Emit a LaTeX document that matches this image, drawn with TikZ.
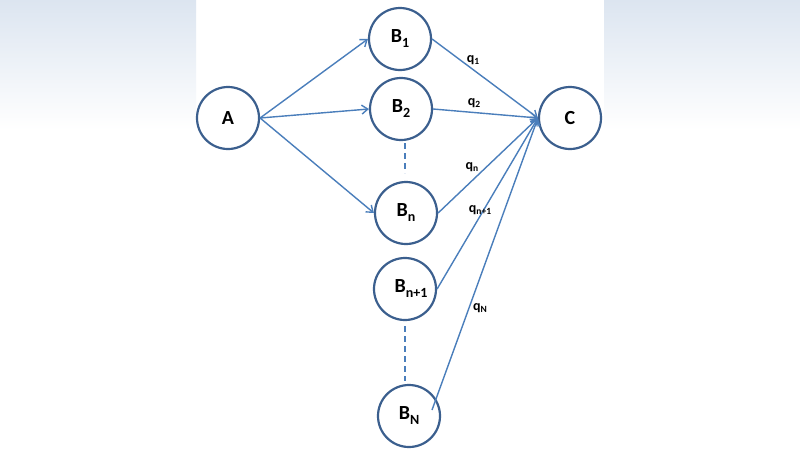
\documentclass[tikz,border=0pt]{standalone}
\usepackage{fontspec}
\setmainfont{Carlito}
\usetikzlibrary{arrows.meta,calc}
\definecolor{ring}{HTML}{3B5F8E}
\definecolor{edge}{HTML}{4A7EBB}
\definecolor{blur}{HTML}{DCE5F0}
\newcommand{\bsub}[1]{\raisebox{-5pt}{\fontsize{14}{14}\selectfont #1}}
\newcommand{\qsub}[1]{\raisebox{-2.5pt}{\fontsize{9.5}{10}\selectfont #1}}
\begin{document}
\begin{tikzpicture}[x=1pt,y=-1pt,
  st/.style={circle,draw=ring,line width=2.2pt,minimum size=62pt,inner sep=0pt,
             font=\bfseries\fontsize{20}{20}\selectfont,text=black},
  arr/.style={draw=edge,line width=1.4pt,-{Straight Barb[length=6pt,width=9pt]}},
  dsh/.style={draw=edge,line width=2.4pt,dash pattern=on 6pt off 4pt},
  lab/.style={font=\bfseries\fontsize{14}{14}\selectfont,text=black,inner sep=0pt}]
\useasboundingbox (0,0) rectangle (800,450);
% blurred side background
\fill[white] (0,0) rectangle (800,450);
\shade[top color=blur, bottom color=white] (0,0) rectangle (196,130);
\shade[top color=blur, bottom color=white] (604,0) rectangle (800,130);
% nodes
\node[st] (A)   at (228,118) {A};
\node[st] (B1)  at (400,39)  {B\bsub{1}};
\node[st] (B2)  at (401,109) {B\bsub{2}};
\node[st] (Bn)  at (406,213) {B\bsub{n}};
\node[st] (Bn1) at (405,289) {\hspace*{12pt}B\bsub{n+1}};
\node[st] (BN)  at (409,416) {B\bsub{N}};
\node[st] (C)   at (570,118) {C};
\coordinate (BNin) at (432,410);
\coordinate (d1a) at (405,143);
\coordinate (d1b) at (405,173);
\coordinate (d2a) at (405,326);
\coordinate (d2b) at (405,381);
% edges from A
\draw[arr] (A.east) -- (B1.west);
\draw[arr] (A.east) -- (B2.west);
\draw[arr] (A.east) -- (Bn.west);
% edges to C
\draw[arr] (B1.east) -- (C.west);
\draw[arr] (B2.east) -- (C.west);
\draw[arr] (Bn.east) -- (C.west);
\draw[arr] (Bn1.east) -- (C.west);
\draw[arr] (BNin) -- (C.west);
% dashed continuation
\draw[dsh] (d1a) -- (d1b);
\draw[dsh] (d2a) -- (d2b);
% labels
\node[lab] (q1)  at (473,60)  {q\qsub{1}};
\node[lab] (q2)  at (474,103) {q\qsub{2}};
\node[lab] (qn)  at (472,167) {q\qsub{n}};
\node[lab] (qn1) at (480,210) {q\qsub{n+1}};
\node[lab] (qN)  at (480,308) {q\qsub{N}};
\end{tikzpicture}
\end{document}
